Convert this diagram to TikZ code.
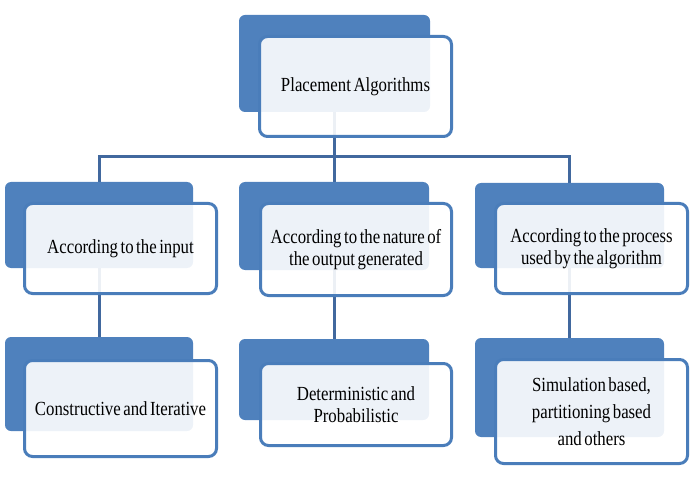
\documentclass[tikz,border=0pt]{standalone}
\usepackage{fontspec}
\setmainfont{Liberation Serif}[FakeStretch=0.84, WordSpace=0.6]
\usetikzlibrary{backgrounds}
\definecolor{darkblue}{HTML}{4F81BD}
\definecolor{edgeblue}{HTML}{4A7DBA}
\definecolor{linkblue}{HTML}{41689E}
\begin{document}
\begin{tikzpicture}[x=1pt,y=-1pt,
  back/.style={fill=darkblue, rounded corners=6pt, inner sep=0pt, outer sep=0pt},
  front/.style={draw=edgeblue, line width=3pt, fill=white, fill opacity=0.9, text opacity=1,
    rounded corners=8pt, align=center, inner sep=0pt, outer sep=0pt, text=black,
    font=\fontsize{20}{21.5}\selectfont},
  link/.style={draw=linkblue, line width=3pt}]
\useasboundingbox (0,0) rectangle (695,486);
\coordinate (bus) at (0,157);
% top
\node[back, minimum width=191pt, minimum height=97pt] (t0) at (334.5,63.5) {};
\node[front, minimum width=192pt, minimum height=100pt] (t1) at (355.5,86.5) {Placement Algorithms};
% level 2
\node[back, minimum width=188pt, minimum height=86pt] (a0) at (99,225) {};
\node[front, minimum width=192pt, minimum height=90pt] (a0f) at (120.5,248.5) {According to the input};
\node[back, minimum width=190pt, minimum height=88pt] (b0) at (334,226) {};
\node[front, minimum width=191pt, minimum height=92pt] (b0f) at (356,249.5) {According to the nature of\\the output generated};
\node[back, minimum width=189pt, minimum height=85pt] (c0) at (569.5,225.5) {};
\node[front, minimum width=192pt, minimum height=90pt] (c0f) at (591.5,248.5) {According to the process\\used by the algorithm};
% level 3
\node[back, minimum width=188pt, minimum height=94pt] (a1) at (99,384) {};
\node[front, minimum width=192pt, minimum height=96pt] (a1f) at (120.5,408.5) {Constructive and Iterative};
\node[back, minimum width=190pt, minimum height=81pt] (b1) at (334,379.5) {};
\node[front, minimum width=191pt, minimum height=82pt] (b1f) at (356,404.5) {Deterministic and\\Probabilistic};
\node[back, minimum width=189pt, minimum height=99pt] (c1) at (569.5,387.5) {};
\node[front, minimum width=192pt, minimum height=104pt, font=\fontsize{20}{27}\selectfont] (c1f) at (591.5,411.5) {Simulation based,\\partitioning based\\and others};
% connectors
\begin{scope}[on background layer]
\draw[link] (t0.south) -- (t0.south |- bus);
\draw[link] (a0.north) -- (a0.north |- bus) -- (c0.north |- bus) -- (c0.north);
\draw[link] (b0.north) -- (b0.north |- bus);
\draw[link] (a0.south) -- (a1.north);
\draw[link] (b0.south) -- (b1.north);
\draw[link] (c0.south) -- (c1.north);
\end{scope}
\end{tikzpicture}
\end{document}
